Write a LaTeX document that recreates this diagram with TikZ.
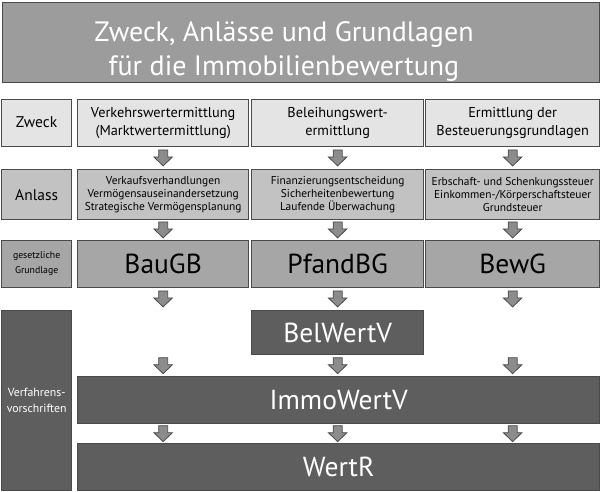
\documentclass[tikz,border=0pt]{standalone}
\usepackage{fontspec}
\setmainfont{PT Sans}
\usetikzlibrary{calc}
\definecolor{edge}{HTML}{4A4A4A}
\definecolor{ctitle}{HTML}{9C9C9C}
\definecolor{cone}{HTML}{E4E4E4}
\definecolor{ctwo}{HTML}{C2C2C2}
\definecolor{cthree}{HTML}{A6A6A6}
\definecolor{cdark}{HTML}{5E5E5E}
\definecolor{carrow}{HTML}{8C8C8C}
\tikzset{
  base/.style={draw=edge, line width=1.3pt, anchor=north west, inner sep=0pt, align=center, text=black},
  rowone/.style={base, fill=cone},
  rowtwo/.style={base, fill=ctwo},
  rowthree/.style={base, fill=cthree},
  darkbox/.style={base, fill=cdark, text=white},
  bigtext/.style={font=\fontsize{27.5}{30}\selectfont},
  pics/barrow/.style={code={
    \filldraw[fill=carrow, draw=edge, line width=0.8pt, line join=miter]
      (-4.5,-8) -- (4.5,-8) -- (4.5,-1) -- (9.3,-1) -- (0,8) -- (-9.3,-1) -- (-4.5,-1) -- cycle;
  }}
}
\begin{document}
\begin{tikzpicture}[x=1pt,y=-1pt]
\useasboundingbox (0,0) rectangle (600,491);
% title
\node[base, fill=ctitle, line width=1.8pt, minimum width=597pt, minimum height=80pt] (title) at (1.5,1.5) {};
\node[text=white, align=center, font=\fontsize{28}{34}\selectfont, anchor=center] (titletext) at (284,51) {Zweck, Anlässe und Grundlagen\\für die Immobilienbewertung};
% row 1
\node[rowone, minimum width=70pt, minimum height=47pt, font=\fontsize{15.5}{17}\selectfont] (z0) at (1,98.5) {Zweck};
\node[rowone, minimum width=171pt, minimum height=47pt, font=\fontsize{14.3}{18}\selectfont] (z1) at (77,98.5) {Verkehrswertermittlung\\(Marktwertermittlung)};
\node[rowone, minimum width=172pt, minimum height=47pt, font=\fontsize{14.3}{18}\selectfont] (z2) at (251,98.5) {Beleihungswert-\\ermittlung};
\node[rowone, minimum width=174pt, minimum height=47pt, font=\fontsize{14.3}{18}\selectfont] (z3) at (425,98.5) {Ermittlung der\\Besteuerungsgrundlagen};
% row 2
\node[rowtwo, minimum width=70pt, minimum height=50pt, font=\fontsize{15.5}{17}\selectfont] (a0) at (1,169) {Anlass};
\node[rowtwo, minimum width=171pt, minimum height=50pt, font=\fontsize{11.4}{13.3}\selectfont] (a1) at (77,169) {Verkaufsverhandlungen\\Vermögensauseinandersetzung\\Strategische Vermögensplanung};
\node[rowtwo, minimum width=172pt, minimum height=50pt, font=\fontsize{11.4}{13.3}\selectfont] (a2) at (251,169) {Finanzierungsentscheidung\\Sicherheitenbewertung\\Laufende Überwachung};
\node[rowtwo, minimum width=174pt, minimum height=50pt, font=\fontsize{11.4}{13.3}\selectfont] (a3) at (425,169) {Erbschaft- und Schenkungssteuer\\Einkommen-/Körperschaftsteuer\\Grundsteuer};
% row 3
\node[rowthree, minimum width=70pt, minimum height=47pt, font=\fontsize{9.8}{15}\selectfont] (g0) at (1,239.5) {gesetzliche\\Grundlage};
\node[rowthree, bigtext, minimum width=171pt, minimum height=47pt] (g1) at (77,239.5) {BauGB};
\node[rowthree, bigtext, minimum width=172pt, minimum height=47pt] (g2) at (251,239.5) {PfandBG};
\node[rowthree, bigtext, minimum width=174pt, minimum height=47pt] (g3) at (425,239.5) {BewG};
% procedural rules
\node[darkbox, minimum width=70pt, minimum height=180pt, font=\fontsize{11.8}{16}\selectfont] (verf) at (1,310) {Verfahrens-\\vorschriften};
\node[darkbox, bigtext, minimum width=172pt, minimum height=44pt] (bel) at (251,310) {BelWertV};
\node[darkbox, bigtext, minimum width=522pt, minimum height=47pt] (immo) at (77,376) {ImmoWertV};
\node[darkbox, bigtext, minimum width=522pt, minimum height=47pt] (wertr) at (77,443) {WertR};
% arrows
\foreach \i in {1,2,3}{
  \path ($(z\i.south)!0.5!(a\i.north)$) pic {barrow};
  \path ($(a\i.south)!0.5!(g\i.north)$) pic {barrow};
  \path ($(g\i.south)!0.5!(g\i.south |- bel.north)$) pic {barrow};
  \path ($(g\i.south |- bel.south)!0.5!(immo.north -| g\i.south)$) pic {barrow};
  \path ($(immo.south -| g\i.south)!0.5!(wertr.north -| g\i.south)$) pic {barrow};
}
\end{tikzpicture}
\end{document}
